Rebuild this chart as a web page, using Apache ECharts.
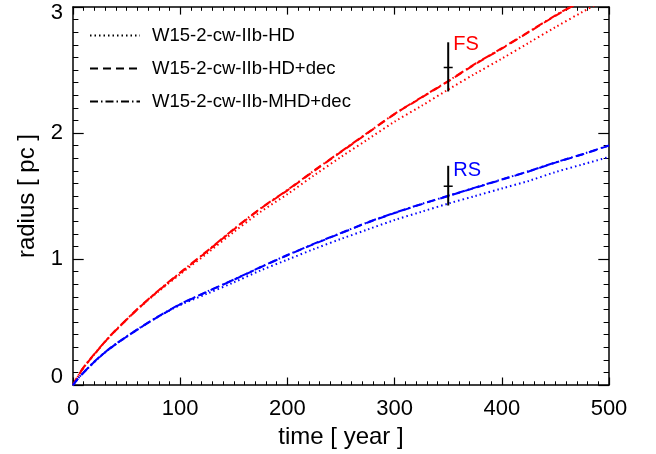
<!DOCTYPE html>
<html>
<head>
<meta charset="utf-8">
<script src="https://cdn.jsdelivr.net/npm/echarts@6/dist/echarts.min.js"></script>
<style>
html,body{margin:0;padding:0;background:#fff;}
#c{width:656px;height:454px;}
</style>
</head>
<body>
<div id="c"></div>
<script>
// ---- data ----
const time = [0, 5, 10, 20, 30, 40, 60, 80, 100, 125, 150, 175, 200, 225, 250, 275, 300, 325, 350, 375, 400, 425, 450, 475, 500];

const fsHD     = [0, 0.075, 0.14, 0.245, 0.345, 0.435, 0.6, 0.745, 0.88, 1.045, 1.215, 1.375, 1.515, 1.665, 1.81, 1.95, 2.09, 2.215, 2.345, 2.47, 2.59, 2.715, 2.84, 2.96, 3.08];
const fsHDdec  = [0, 0.075, 0.14, 0.245, 0.345, 0.435, 0.6, 0.75, 0.89, 1.06, 1.235, 1.40, 1.545, 1.70, 1.85, 2.0, 2.15, 2.28, 2.41, 2.545, 2.67, 2.80, 2.93, 3.05, 3.17];
const fsMHDdec = [0, 0.077, 0.143, 0.247, 0.347, 0.438, 0.603, 0.753, 0.893, 1.063, 1.238, 1.402, 1.548, 1.703, 1.853, 2.003, 2.152, 2.283, 2.413, 2.548, 2.673, 2.803, 2.933, 3.053, 3.173];

const rsHD     = [0, 0.055, 0.1, 0.185, 0.26, 0.325, 0.44, 0.545, 0.635, 0.725, 0.815, 0.91, 0.995, 1.08, 1.16, 1.235, 1.31, 1.375, 1.44, 1.50, 1.56, 1.62, 1.69, 1.75, 1.81];
const rsHDdec  = [0, 0.055, 0.1, 0.185, 0.26, 0.325, 0.44, 0.545, 0.64, 0.74, 0.835, 0.935, 1.03, 1.12, 1.205, 1.29, 1.365, 1.435, 1.50, 1.565, 1.63, 1.695, 1.765, 1.83, 1.90];
const rsMHDdec = [0, 0.056, 0.102, 0.187, 0.262, 0.327, 0.442, 0.547, 0.642, 0.742, 0.837, 0.937, 1.032, 1.122, 1.207, 1.292, 1.367, 1.437, 1.502, 1.567, 1.632, 1.697, 1.767, 1.832, 1.902];

const seriesNames = ['W15-2-cw-IIb-HD', 'W15-2-cw-IIb-HD+dec', 'W15-2-cw-IIb-MHD+dec'];

// error bars (FS, RS)
const errTime  = [350, 350];
const errLow   = [2.33, 1.425];
const errHigh  = [2.72, 1.74];
const errMid   = [2.52, 1.578];
const errLabel = ['FS', 'RS'];
const errLabelR = [2.70, 1.70];

const xTicks = [0, 100, 200, 300, 400, 500];
const yTicks = [0, 1, 2, 3];

// ---- styles ----
const FONT = "'Liberation Sans', Arial, Helvetica, sans-serif";
const dashTypes = [[1.5, 3], [8, 5], [8, 3, 1.5, 3]];
const zip = (a) => time.map((t, i) => [t, a[i]]);

function lineSeries(name, data, color, k) {
  return {
    name: name, type: 'line', data: zip(data), symbol: 'none', smooth: 0.3,
    clip: true, xAxisIndex: 0, yAxisIndex: 0,
    lineStyle: { color: color, width: 2, type: dashTypes[k] },
    itemStyle: { color: color }, z: 3
  };
}

const errData = errTime.map((t, i) => [t, errLow[i], errHigh[i], errMid[i], errLabelR[i], i]);

const axisCommon = {
  axisLine: { show: true, onZero: false, lineStyle: { color: '#000', width: 1.5 } },
  splitLine: { show: false },
  minorSplitLine: { show: false },
};

const chart = echarts.init(document.getElementById('c'), null, { renderer: 'canvas' });
chart.setOption({
  animation: false,
  backgroundColor: '#fff',
  grid: { left: 73, right: 47, top: 7, bottom: 68 },
  legend: {
    orient: 'vertical', left: 84, top: 21,
    itemWidth: 50, itemHeight: 16, itemGap: 14,
    textStyle: { color: '#000', fontSize: 18.5, fontFamily: FONT, padding: [0, 0, 0, 7] },
    data: seriesNames.map((n, k) => ({
      name: n,
      itemStyle: { color: 'rgba(0,0,0,0)', borderColor: 'rgba(0,0,0,0)', borderWidth: 0 },
      lineStyle: { color: '#000', width: 2, type: dashTypes[k] }
    })),
    selectedMode: false
  },
  xAxis: [
    Object.assign({}, axisCommon, {
      type: 'value', min: 0, max: 500, interval: 100, position: 'bottom',
      name: 'time [ year ]', nameLocation: 'middle', nameGap: 39,
      nameTextStyle: { color: '#000', fontSize: 24, fontFamily: FONT },
      axisTick: { show: true, inside: true, length: 7.6, lineStyle: { color: '#000', width: 1.2 } },
      minorTick: { show: true, splitNumber: 10, length: 3.8, lineStyle: { color: '#000', width: 1 } },
      axisLabel: { show: true, color: '#000', fontSize: 22, fontFamily: FONT, margin: 13,
        formatter: (v) => xTicks.includes(v) ? String(v) : '' }
    }),
    Object.assign({}, axisCommon, {
      type: 'value', min: 0, max: 500, interval: 100, position: 'top',
      axisTick: { show: true, inside: true, length: 7.6, lineStyle: { color: '#000', width: 1.2 } },
      minorTick: { show: true, splitNumber: 10, length: 3.8, lineStyle: { color: '#000', width: 1 } },
      axisLabel: { show: false }
    })
  ],
  yAxis: [
    Object.assign({}, axisCommon, {
      type: 'value', min: 0, max: 3, interval: 1, position: 'left',
      name: 'radius [ pc ]', nameLocation: 'middle', nameGap: 31,
      nameTextStyle: { color: '#000', fontSize: 24, fontFamily: FONT },
      axisTick: { show: true, inside: true, length: 10.7, lineStyle: { color: '#000', width: 1.2 } },
      minorTick: { show: true, splitNumber: 10, length: 5.4, lineStyle: { color: '#000', width: 1 } },
      axisLabel: { show: true, color: '#000', fontSize: 22, fontFamily: FONT, margin: 10,
        formatter: (v) => {
          if (!yTicks.includes(v)) return '';
          if (v === 3) return '{t|3}';
          if (v === 0) return '{b|0}';
          return String(v);
        },
        rich: {
          t: { fontSize: 22, fontFamily: FONT, color: '#000', padding: [12, 0, 0, 0] },
          b: { fontSize: 22, fontFamily: FONT, color: '#000', padding: [0, 0, 16, 0] }
        }
      }
    }),
    Object.assign({}, axisCommon, {
      type: 'value', min: 0, max: 3, interval: 1, position: 'right',
      axisTick: { show: true, inside: true, length: 10.7, lineStyle: { color: '#000', width: 1.2 } },
      minorTick: { show: true, splitNumber: 10, length: 5.4, lineStyle: { color: '#000', width: 1 } },
      axisLabel: { show: false }
    })
  ],
  series: [
    lineSeries(seriesNames[0], fsHD, '#ff0000', 0),
    lineSeries(seriesNames[1], fsHDdec, '#ff0000', 1),
    lineSeries(seriesNames[2], fsMHDdec, '#ff0000', 2),
    lineSeries(seriesNames[0], rsHD, '#0000ff', 0),
    lineSeries(seriesNames[1], rsHDdec, '#0000ff', 1),
    lineSeries(seriesNames[2], rsMHDdec, '#0000ff', 2),
    {
      type: 'custom', name: 'err', xAxisIndex: 0, yAxisIndex: 0, z: 5,
      data: errData,
      renderItem: function (params, api) {
        const t = api.value(0);
        const pl = api.coord([t, api.value(1)]);
        const ph = api.coord([t, api.value(2)]);
        const pm = api.coord([t, api.value(3)]);
        const pt = api.coord([t, api.value(4)]);
        const idx = api.value(5);
        return {
          type: 'group',
          children: [
            { type: 'line', shape: { x1: pl[0], y1: pl[1], x2: ph[0], y2: ph[1] }, style: { stroke: '#000', lineWidth: 2 } },
            { type: 'line', shape: { x1: pm[0] - 4.5, y1: pm[1], x2: pm[0] + 4.5, y2: pm[1] }, style: { stroke: '#000', lineWidth: 1.5 } },
            { type: 'text', x: pt[0] + 5, y: pt[1],
              style: { text: errLabel[idx], fill: idx === 0 ? '#ff0000' : '#0000ff',
                font: '20px ' + FONT, textVerticalAlign: 'middle', textAlign: 'left' } }
          ]
        };
      }
    }
  ]
});
</script>
</body>
</html>
